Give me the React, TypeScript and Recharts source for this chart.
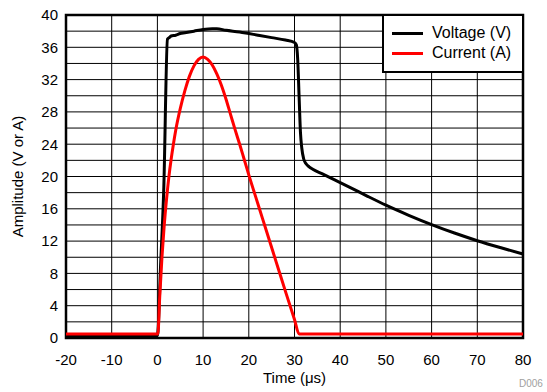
import { Legend, Line, LineChart, ReferenceArea, ReferenceLine, XAxis, YAxis } from "recharts";

const FONT = "'Liberation Sans', Arial, Helvetica, sans-serif";

// time axis (µs) and amplitude axis ticks
const xTicks = [-20, -10, 0, 10, 20, 30, 40, 50, 60, 70, 80];
const yTicks = [0, 4, 8, 12, 16, 20, 24, 28, 32, 36, 40];
const gridX = [-10, 0, 10, 20, 30, 40, 50, 60, 70];
const gridY = [2, 4, 6, 8, 10, 12, 14, 16, 18, 20, 22, 24, 26, 28, 30, 32, 34, 36, 38];
const seriesNames = ["Voltage (V)", "Current (A)"];

// voltage trace
const voltageTime = [
  -20, 0, 0.7, 1.4, 2.2, 2.6, 3, 4, 5, 6, 8, 10, 12, 13, 15, 18, 20, 22, 25, 28, 30, 30.4, 30.7, 31, 31.3,
  31.6, 32, 32.5, 33.2, 34, 36, 38, 40, 43, 46, 50, 55, 60, 65, 70, 75, 80,
];
const voltageValues = [
  0.3, 0.3, 9, 18.6, 37, 37.2, 37.4, 37.5, 37.7, 37.8, 38.0, 38.2, 38.3, 38.3, 38.1, 37.9, 37.7, 37.5, 37.2,
  36.9, 36.6, 36.3, 34.5, 30, 25.5, 23.5, 22.2, 21.6, 21.2, 20.9, 20.35, 19.8, 19.25, 18.4, 17.55, 16.45,
  15.2, 14.05, 13.0, 12.05, 11.2, 10.4,
];

// current trace
const currentTime = [
  -20, 0, 0.1, 0.5, 1, 1.5, 2, 2.5, 3, 3.5, 4, 5, 6, 7, 8, 9, 10, 11, 12, 13, 14, 15, 16, 17, 18, 19, 20,
  22, 24, 26, 28, 30, 31, 80,
];
const currentValues = [
  0.5, 0.5, 0.5, 5, 10, 14, 17.2, 19.9, 22.1, 24, 25.7, 28.4, 30.6, 32.4, 33.7, 34.5, 34.8, 34.5, 33.8, 32.7,
  31.3, 29.6, 27.7, 25.8, 24.0, 22.1, 20.2, 16.6, 13.0, 9.4, 5.8, 2.3, 0.5, 0.5,
];

const voltageData = voltageTime.map((t, i) => ({ t, v: voltageValues[i] }));
const currentData = currentTime.map((t, i) => ({ t, v: currentValues[i] }));

function LegendBox({ payload }: any) {
  const items = [...(payload || [])].sort((a: any, b: any) => seriesNames.indexOf(a.value) - seriesNames.indexOf(b.value));
  return (
    <div style={{ paddingTop: 7, fontFamily: FONT, fontSize: 16 }}>
      {items.map((p: any) => (
        <div key={p.value} style={{ display: "flex", alignItems: "center", height: 20 }}>
          <span style={{ display: "inline-block", width: 31, height: 3, background: p.color, marginLeft: 8, marginRight: 9 }} />
          <span style={{ lineHeight: "20px", color: "#000" }}>{p.value}</span>
        </div>
      ))}
    </div>
  );
}

export default function App() {
  const tick = { fontFamily: FONT, fontSize: 15, fill: "#000" };
  return (
    <div style={{ position: "absolute", left: 0, top: 0, width: 547, height: 392, background: "#fff" }}>
      <LineChart width={547} height={392} margin={{ top: 15, right: 24, bottom: 6, left: 0 }}>
        <XAxis
          dataKey="t"
          type="number"
          domain={[-20, 80]}
          ticks={xTicks}
          tickLine={false}
          axisLine={false}
          tickMargin={10}
          height={48}
          tick={tick}
          label={{ value: "Time (μs)", position: "insideBottom", offset: 3, style: { fontFamily: FONT, fontSize: 15, fill: "#000" } }}
        />
        <YAxis
          type="number"
          domain={[0, 40]}
          ticks={yTicks}
          tickLine={false}
          axisLine={false}
          width={66}
          tick={tick}
          label={{
            value: "Amplitude (V or A)",
            angle: -90,
            position: "insideLeft",
            offset: 18,
            style: { fontFamily: FONT, fontSize: 15, fill: "#000", textAnchor: "middle" },
          }}
        />
        {gridX.map((x) => (
          <ReferenceLine key={`gx${x}`} x={x} stroke="#000" strokeWidth={1} />
        ))}
        {gridY.map((y) => (
          <ReferenceLine key={`gy${y}`} y={y} stroke="#000" strokeWidth={1} />
        ))}
        <ReferenceArea x1={-20} x2={80} y1={0} y2={40} fill="none" fillOpacity={0} stroke="#000" strokeWidth={2.5} />
        <Line
          data={voltageData}
          dataKey="v"
          name="Voltage (V)"
          type="monotone"
          stroke="#000"
          strokeWidth={3}
          dot={false}
          isAnimationActive={false}
        />
        <Line
          data={currentData}
          dataKey="v"
          name="Current (A)"
          type="monotone"
          stroke="#ff0000"
          strokeWidth={3}
          dot={false}
          isAnimationActive={false}
        />
        <Legend
          layout="horizontal"
          verticalAlign="middle"
          align="center"
          content={<LegendBox />}
          wrapperStyle={{
            left: 382,
            top: 14,
            width: 142,
            height: 59,
            border: "2px solid #000",
            background: "#fff",
            boxSizing: "border-box",
          }}
        />
      </LineChart>
      <div style={{ position: "absolute", left: 519, top: 378, fontFamily: FONT, fontSize: 10, color: "#a0a0a0" }}>D006</div>
    </div>
  );
}
